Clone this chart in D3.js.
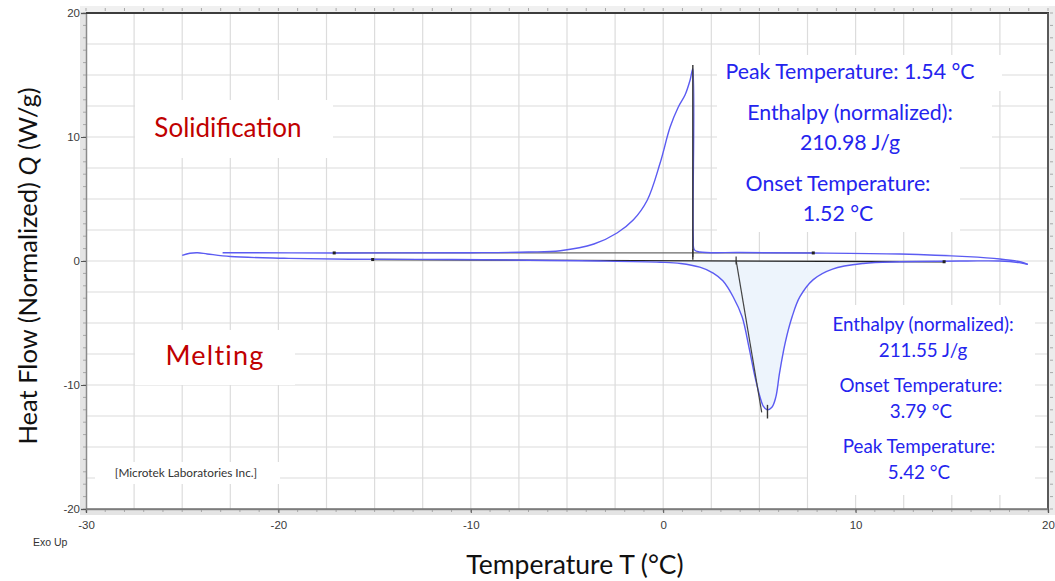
<!DOCTYPE html>
<html>
<head>
<meta charset="utf-8">
<script src="https://cdn.jsdelivr.net/npm/d3@7"></script>
<style>
  html, body { margin: 0; padding: 0; background: #fff; }
  svg { display: block; }
</style>
</head>
<body>
<svg id="chart" width="1055" height="581"></svg>
<script>
// ---------------- data ----------------
const xTicks = [-30, -20, -10, 0, 10, 20];
const yTicks = [-20, -10, 0, 10, 20];

// heating run (melting, endotherm down)
const heatingT = [-25.0, -24.6, -24.2, -23.7, -22.5, -19.7, -16.3, -11.0, -5.9, -3.3, -0.15, 0.9, 1.9, 2.6, 3.1, 3.64, 4.1, 4.45, 4.78, 5.04, 5.2, 5.4, 5.65, 5.85, 6.05, 6.34, 6.7, 7.1, 7.8, 8.8, 10.4, 12.3, 15.8, 17.5, 18.5, 18.95];
const heatingQ = [0.45, 0.62, 0.66, 0.57, 0.36, 0.22, 0.14, 0.12, 0.04, 0.0, -0.1, -0.2, -0.5, -0.97, -1.6, -2.9, -4.5, -6.9, -9.4, -11.0, -11.7, -12.0, -11.8, -11.0, -9.0, -6.6, -4.5, -2.9, -1.5, -0.65, -0.2, -0.06, 0.0, 0.0, -0.13, -0.27];

// cooling run (solidification, exotherm up)
const coolingT = [18.95, 18.6, 17.5, 15.8, 12.3, 7.6, 4.0, 1.9, 1.62, 1.56, 1.54, 1.4, 1.14, 0.78, 0.36, -0.16, -0.83, -1.56, -2.4, -3.6, -5.35, -7.0, -10.0, -17.0, -22.9];
const coolingQ = [-0.27, -0.08, 0.16, 0.35, 0.56, 0.65, 0.68, 0.73, 0.9, 2.0, 15.5, 14.6, 13.4, 12.4, 10.8, 7.9, 4.9, 3.3, 2.26, 1.37, 0.83, 0.72, 0.67, 0.65, 0.67];

// analysis lines
const meltBaseT = [-15.1, 14.6];
const meltBaseQ = [0.12, -0.06];
const solidBaseT = [-17.1, 7.8];
const solidBaseQ = [0.65, 0.65];
const meltOnsetT = [3.79, 5.12];
const meltOnsetQ = [0.05, -12.2];
const solidPeakT = [1.54, 1.54];
const solidPeakQ = [15.8, 0.1];
const meltPeakT = [5.42, 5.42];
const meltPeakQ = [-11.6, -12.7];

const solidLabels = ["Peak Temperature: 1.54 °C", "Enthalpy (normalized):", "210.98 J/g", "Onset Temperature:", "1.52 °C"];
const meltLabels = ["Enthalpy (normalized):", "211.55 J/g", "Onset Temperature:", "3.79 °C", "Peak Temperature:", "5.42 °C"];

// ---------------- layout ----------------
const svg = d3.select("#chart");
const x = d3.scaleLinear().domain([-30, 20]).range([86, 1048]);
const y = d3.scaleLinear().domain([-20, 20]).range([509, 13]);
const X0 = x(-30), X1 = x(20), Y0 = y(20), Y1 = y(-20);

const blue = "#5b5bf2";
const textBlue = "#2424ee";
const red = "#c00000";
const titleFont = "Lato, 'Open Sans', sans-serif";
const tickFont = "'Liberation Sans', Arial, sans-serif";

// plot background
svg.append("rect").attr("x", X0).attr("y", Y0).attr("width", X1 - X0).attr("height", Y1 - Y0).attr("fill", "#fff");

// grid every 2.5
const gx = d3.range(-27.5, 20, 2.5);
const gy = d3.range(-17.5, 20, 2.5);
const grid = svg.append("g").attr("stroke", "#dcdcdc").attr("stroke-width", 1.2);
grid.selectAll("line.v").data(gx).join("line")
  .attr("x1", d => x(d)).attr("x2", d => x(d)).attr("y1", Y0).attr("y2", Y1);
grid.selectAll("line.h").data(gy).join("line")
  .attr("x1", X0).attr("x2", X1).attr("y1", d => y(d)).attr("y2", d => y(d));

// white label boxes (cover grid)
const boxes = [
  [135, 100, 198, 58],   // Solidification
  [135, 330, 160, 55],   // Melting
  [95, 462, 185, 22],    // Microtek
  [717, 55, 285, 36],    // peak temp
  [717, 91, 275, 74],    // enthalpy
  [717, 165, 243, 67],   // onset
  [808, 305, 227, 190]   // melting annotations
];
svg.append("g").selectAll("rect").data(boxes).join("rect")
  .attr("x", d => d[0]).attr("y", d => d[1]).attr("width", d => d[2]).attr("height", d => d[3])
  .attr("fill", "#fff");

// axis ruler bands
const band = svg.append("g");
band.append("rect").attr("x", X0 - 6).attr("y", Y0 - 7).attr("width", 6).attr("height", Y1 - Y0 + 13).attr("fill", "#e4e4e4");
band.append("rect").attr("x", X0 - 6).attr("y", Y1).attr("width", X1 - X0 + 12).attr("height", 6).attr("fill", "#e4e4e4");
band.append("rect").attr("x", X0 - 6).attr("y", Y0 - 7).attr("width", X1 - X0 + 12).attr("height", 6).attr("fill", "#f0f0f0");
band.append("rect").attr("x", X1 + 1).attr("y", Y0 - 7).attr("width", 6).attr("height", Y1 - Y0 + 13).attr("fill", "#ececec");

// minor ruler ticks
const minorX = d3.range(-30, 20.01, 1);
const minorY = d3.range(-20, 20.01, 1);
const mt = svg.append("g").attr("stroke", "#a8a8a8").attr("stroke-width", 1);
mt.selectAll("line.bx").data(minorX).join("line")
  .attr("x1", d => x(d)).attr("x2", d => x(d)).attr("y1", Y1).attr("y2", Y1 + 3);
mt.selectAll("line.tx").data(minorX).join("line")
  .attr("x1", d => x(d)).attr("x2", d => x(d)).attr("y1", Y0 - 5).attr("y2", Y0 - 2);
mt.selectAll("line.ly").data(minorY).join("line")
  .attr("x1", X0 - 3).attr("x2", X0).attr("y1", d => y(d)).attr("y2", d => y(d));
mt.selectAll("line.ry").data(minorY).join("line")
  .attr("x1", X1 + 2).attr("x2", X1 + 5).attr("y1", d => y(d)).attr("y2", d => y(d));

// axes with d3
const fmt = d => String(d);
const axB = svg.append("g").attr("transform", `translate(0,${Y1})`)
  .call(d3.axisBottom(x).tickValues(xTicks).tickSize(4).tickPadding(6).tickFormat(fmt));
const axL = svg.append("g").attr("transform", `translate(${X0},0)`)
  .call(d3.axisLeft(y).tickValues(yTicks).tickSize(5).tickPadding(1).tickFormat(fmt));
[axB, axL].forEach(a => {
  a.select(".domain").attr("stroke", "#8a8a8a").attr("stroke-width", 1.5);
  a.selectAll(".tick line").attr("stroke", "#555");
  a.selectAll(".tick text").attr("fill", "#3a3a3a").attr("font-family", tickFont).attr("font-size", 11.5);
});
axB.selectAll(".tick text").attr("dy", "0.9em");

// top and right frame lines
svg.append("line").attr("x1", X0).attr("x2", X1 + 1).attr("y1", Y0).attr("y2", Y0).attr("stroke", "#3c3c3c").attr("stroke-width", 2);
svg.append("line").attr("x1", X1).attr("x2", X1).attr("y1", Y0).attr("y2", Y1).attr("stroke", "#5a5a5a").attr("stroke-width", 2);
svg.append("line").attr("x1", X0).attr("x2", X1).attr("y1", Y1).attr("y2", Y1).attr("stroke", "#777").attr("stroke-width", 1.5);

// ---------------- marks ----------------
const heat = heatingT.map((t, i) => ({ t, q: heatingQ[i] }));
const cool = coolingT.map((t, i) => ({ t, q: coolingQ[i] }));

const baseQ = t => meltBaseQ[0] + (meltBaseQ[1] - meltBaseQ[0]) * (t - meltBaseT[0]) / (meltBaseT[1] - meltBaseT[0]);

// fill of melting peak
const fillPts = heat.filter(d => d.t >= 0.9 && d.t <= 12.3);
svg.append("path").datum(fillPts)
  .attr("d", d3.area().x(d => x(d.t)).y0(d => y(baseQ(d.t))).y1(d => y(d.q)).curve(d3.curveCatmullRom.alpha(0.5)))
  .attr("fill", "#edf4fc");

const line = d3.line().x(d => x(d.t)).y(d => y(d.q)).curve(d3.curveCatmullRom.alpha(0.5));

// baselines
const seg = (T, Q) => T.map((t, i) => ({ t, q: Q[i] }));
const lin = d3.line().x(d => x(d.t)).y(d => y(d.q));
svg.append("path").datum(seg(solidBaseT, solidBaseQ)).attr("d", lin).attr("fill", "none").attr("stroke", "#6a6a6a").attr("stroke-width", 1.3);
svg.append("path").datum(seg(meltBaseT, meltBaseQ)).attr("d", lin).attr("fill", "none").attr("stroke", "#222").attr("stroke-width", 1.3);

// curves
svg.append("path").datum(heat).attr("d", line).attr("fill", "none").attr("stroke", blue).attr("stroke-width", 1.4);
svg.append("path").datum(cool).attr("d", line).attr("fill", "none").attr("stroke", blue).attr("stroke-width", 1.4);

// analysis markers
svg.append("path").datum(seg(solidPeakT, solidPeakQ)).attr("d", lin).attr("stroke", "#333").attr("stroke-width", 1.4).attr("fill", "none");
svg.append("path").datum(seg(meltOnsetT, meltOnsetQ)).attr("d", lin).attr("stroke", "#444").attr("stroke-width", 1.2).attr("fill", "none");
svg.append("path").datum(seg(meltPeakT, meltPeakQ)).attr("d", lin).attr("stroke", "#333").attr("stroke-width", 1.4).attr("fill", "none");
const dots = [[solidBaseT[0], solidBaseQ[0]], [solidBaseT[1], solidBaseQ[1]], [meltBaseT[0], meltBaseQ[0]], [meltBaseT[1], meltBaseQ[1]]];
svg.append("g").selectAll("rect").data(dots).join("rect")
  .attr("x", d => x(d[0]) - 1.5).attr("y", d => y(d[1]) - 1.5).attr("width", 3).attr("height", 3).attr("fill", "#222");
const tickMarks = [[solidPeakT[0], solidBaseQ[0]], [meltOnsetT[0], meltOnsetQ[0]]];
svg.append("g").selectAll("line").data(tickMarks).join("line")
  .attr("x1", d => x(d[0])).attr("x2", d => x(d[0])).attr("y1", d => y(d[1]) - 4).attr("y2", d => y(d[1]) + 4)
  .attr("stroke", "#333").attr("stroke-width", 1.2);

// ---------------- text ----------------
svg.append("text").attr("x", 228).attr("y", 137).attr("text-anchor", "middle")
  .attr("font-family", titleFont).attr("font-size", 26).attr("fill", red).text("Solidification");
svg.append("text").attr("x", 215).attr("y", 365).attr("text-anchor", "middle")
  .attr("font-family", titleFont).attr("font-size", 27).attr("letter-spacing", 1.2).attr("fill", red).text("Melting");
svg.append("text").attr("x", 186).attr("y", 477).attr("text-anchor", "middle")
  .attr("font-family", titleFont).attr("font-size", 11.8).attr("fill", "#333").text("[Microtek Laboratories Inc.]");

const sPos = [[850, 79], [850, 120], [850, 150], [838, 191], [838, 221]];
svg.append("g").selectAll("text").data(solidLabels).join("text")
  .attr("x", (d, i) => sPos[i][0]).attr("y", (d, i) => sPos[i][1]).attr("text-anchor", "middle")
  .attr("font-family", titleFont).attr("font-size", 21.3).attr("fill", textBlue).text(d => d);

const mPos = [[923, 331], [923, 357], [921, 392], [921, 418], [919, 453], [919, 479]];
svg.append("g").selectAll("text").data(meltLabels).join("text")
  .attr("x", (d, i) => mPos[i][0]).attr("y", (d, i) => mPos[i][1]).attr("text-anchor", "middle")
  .attr("font-family", titleFont).attr("font-size", 18.8).attr("fill", textBlue).text(d => d);

// axis titles
svg.append("text").attr("x", 575).attr("y", 574).attr("text-anchor", "middle")
  .attr("font-family", titleFont).attr("font-size", 26.5).attr("fill", "#111").text("Temperature T (°C)");
const yt = svg.append("text").attr("transform", "translate(37,266) rotate(-90)").attr("text-anchor", "middle")
  .attr("font-family", titleFont).attr("font-size", 25.5).attr("fill", "#111");
yt.append("tspan").text("Heat Flow (Normalized) ");
yt.append("tspan").attr("font-style", "italic").text("Q");
yt.append("tspan").text(" (W/g)");

svg.append("text").attr("x", 33).attr("y", 546)
  .attr("font-family", tickFont).attr("font-size", 10.5).attr("fill", "#333").text("Exo Up");
</script>
</body>
</html>
